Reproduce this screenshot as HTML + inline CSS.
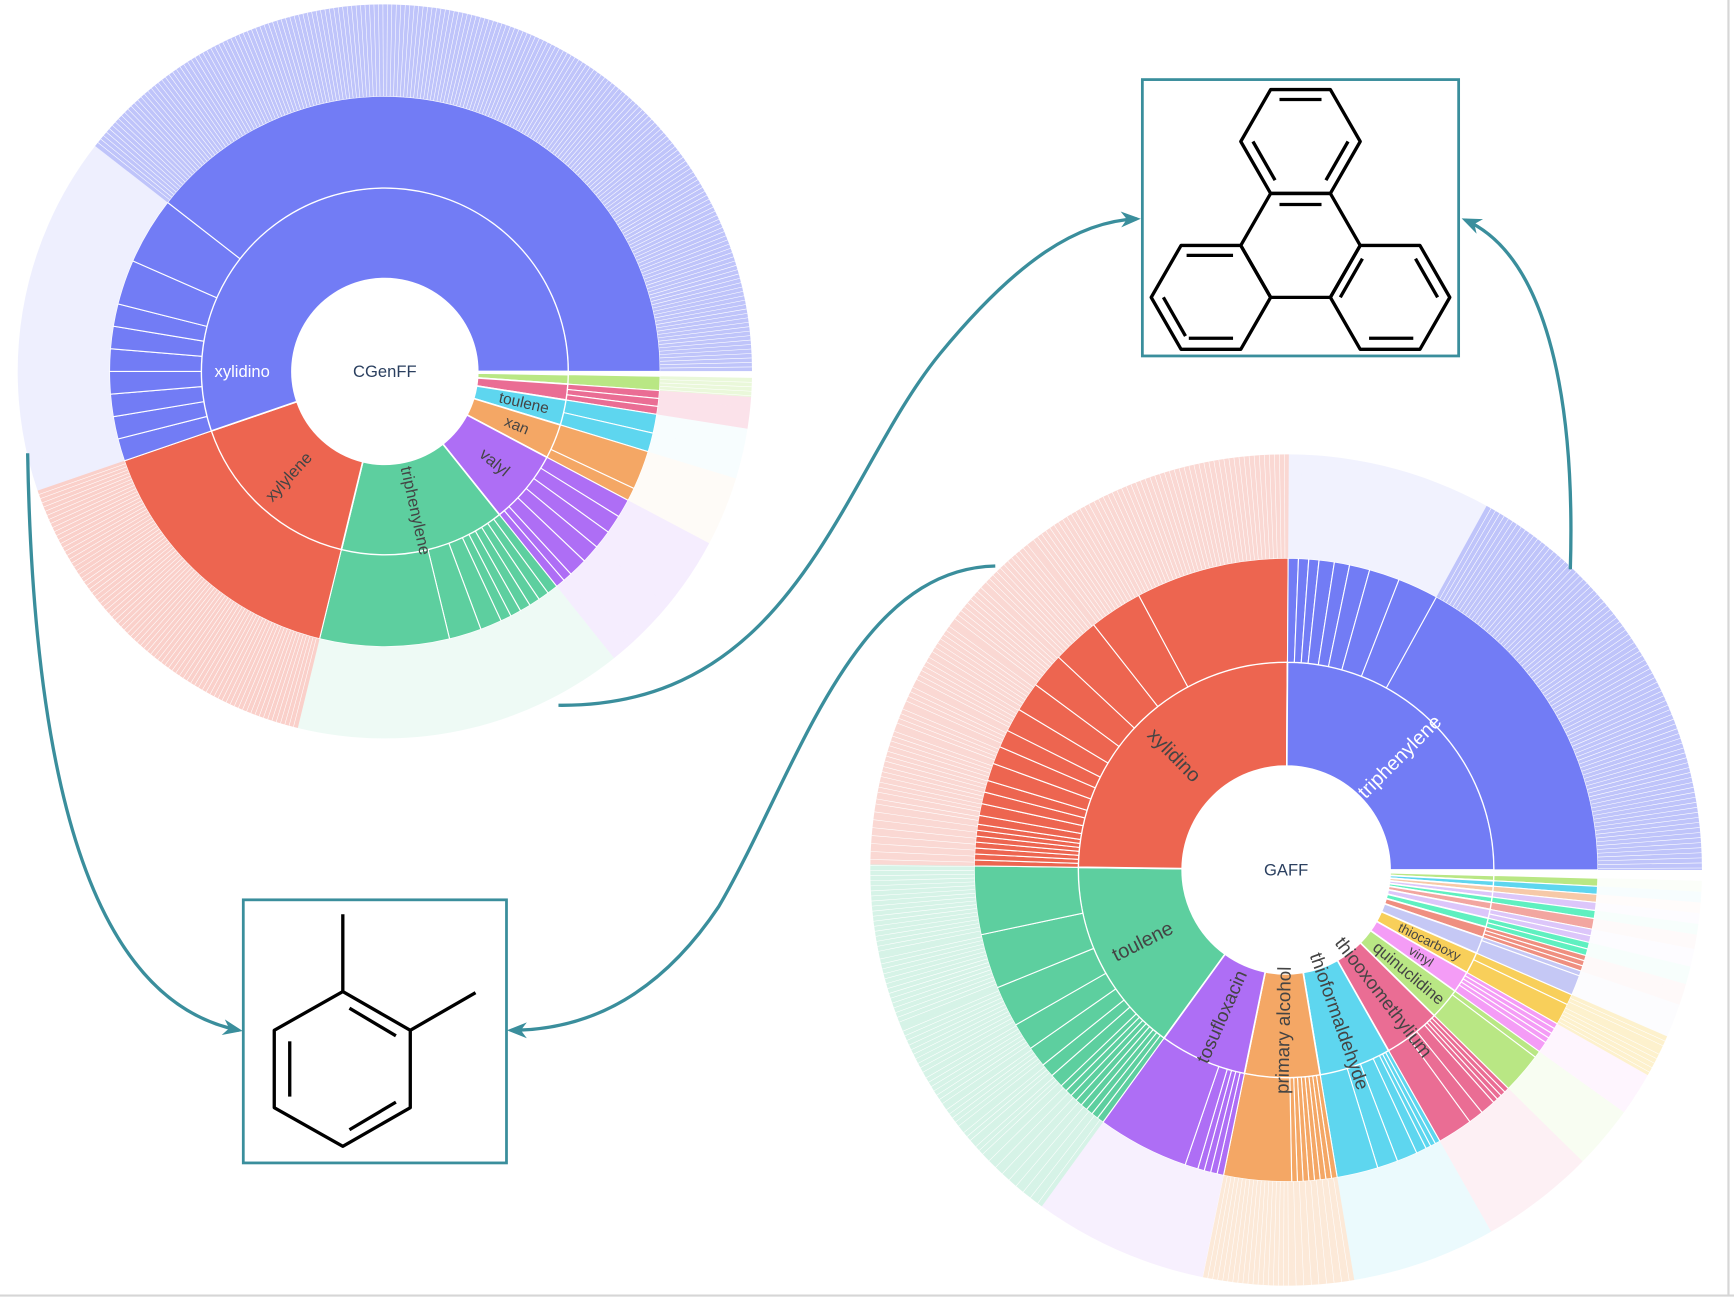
<!DOCTYPE html>
<html><head><meta charset="utf-8"><style>
html,body{margin:0;padding:0;background:#fff;width:1734px;height:1300px;overflow:hidden}
svg{display:block}
text{font-family:"Liberation Sans",sans-serif}
</style></head><body>
<svg id="root" width="1734" height="1300" viewBox="0 0 1568 1176" preserveAspectRatio="none" xmlns="http://www.w3.org/2000/svg">
<rect x="0" y="0" width="1568" height="1176" fill="#fff"/>
<line x1="1563" y1="0" x2="1563" y2="1172" stroke="#d6d6d6" stroke-width="2"/>
<line x1="0" y1="1172" x2="1568" y2="1172" stroke="#d6d6d6" stroke-width="2"/>
<g id="cg"></g>
<g id="ga"></g>
<defs><marker id="ah" viewBox="0 0 10 10" refX="8" refY="5" markerWidth="6" markerHeight="6" orient="auto"><path d="M0,1 L10,5 L0,9 L3,5 z" fill="#3a8e9c"/></marker></defs>
<g fill="none" stroke="#3a8e9c" stroke-width="3">
<path d="M25,410 C30,700 80,905 216,932" marker-end="url(#ah)"/>
<path d="M505,638 C720,640 760,430 850,320 C920,235 975,200 1028,198" marker-end="url(#ah)"/>
<path d="M900,512 C770,515 720,700 650,820 C590,910 520,932 462,932" marker-end="url(#ah)"/>
<path d="M1420,515 C1425,350 1395,230 1325,199" marker-end="url(#ah)"/>
</g>
<g>
<rect x="1033" y="72" width="286" height="250" fill="#fff" stroke="#3a8e9c" stroke-width="2.5"/>
<g fill="none" stroke="#000" stroke-width="3" stroke-linejoin="round">
<polygon points="1122,128 1149,81 1203,81 1230,128 1203,175 1149,175"/>
<polygon points="1149,175 1203,175 1230,222 1203,269 1149,269 1122,222"/>
<polygon points="1122,222 1149,269 1122,316 1068,316 1041,269 1068,222"/>
<polygon points="1230,222 1284,222 1311,269 1284,316 1230,316 1203,269"/>
<line x1="1157" y1="90" x2="1195" y2="90"/><line x1="1133" y1="128" x2="1153" y2="163"/><line x1="1219" y1="128" x2="1199" y2="163"/>
<line x1="1157" y1="185" x2="1195" y2="185"/>
<line x1="1073" y1="231" x2="1115" y2="231"/><line x1="1052" y1="269" x2="1072" y2="304"/><line x1="1075" y1="306" x2="1115" y2="306"/>
<line x1="1238" y1="306" x2="1278" y2="306"/><line x1="1300" y1="269" x2="1280" y2="234"/><line x1="1212" y1="269" x2="1232" y2="234"/>
</g></g>
<g>
<rect x="220" y="814" width="238" height="238" fill="#fff" stroke="#3a8e9c" stroke-width="2.5"/>
<g fill="none" stroke="#000" stroke-width="3" stroke-linejoin="round">
<polygon points="310,897 371,932 371,1002 310,1037 248,1002 248,932"/>
<line x1="310" y1="897" x2="310" y2="827"/><line x1="371" y1="932" x2="430" y2="898"/>
<line x1="262" y1="942" x2="262" y2="992"/><line x1="316" y1="912" x2="358" y2="937"/><line x1="316" y1="1022" x2="358" y2="997"/>
</g></g>
</svg>
<script>
// ---- CGenFF data ----
const cgLabels = ["thioformaldehyde","W,W-bis-allyloxycarbonyl","toulene","xan","valyl","triphenylene","xylylene","xylidino"];
const cgValues = [3,5,8,11,23.5,52.5,57.5,199.5];
const cgColors = ["#b9e784","#ea6d94","#5ed6ef","#f4a765","#ae6ef5","#5dcf9f","#ed6550","#727cf5"];
const cgChildren = [[1],[1,1,1],[1,1],[3,1],[2,2,2,2,2,1,1],[1,1,1,1,1,1,2,3,12],[1],[1,1,1,1,1,1,1,2,3,30]];
const cgRing3 = [0.3,0.2,0.05,0.05,0.12,0.1,0.3,0.12];
const cgLabelAngle = [null,null,null,null,null,null,null,180];
// ---- GAFF data ----
const gaLabels = ["","","","","","","thiazole","tosyl","water","silicon carbide","thiocarboxy","vinyl","quinuclidine","thiooxomethylium","thioformaldehyde","primary alcohol","tosufloxacin","toulene","xylidino","triphenylene"];
const gaValues = [1.5,1.5,1.5,1.5,1.5,2,2.5,2.5,3,4.7,6,6.1,8.9,16,20.2,21.1,24.5,55,90,90];
const gaColors = ["#b9e784","#5ed6ef","#f6c9a8","#dcc6fa","#5ff0c0","#f2a6a0","#dcc6fa","#5ff0c0","#ef8f80","#c5c8f5","#f8cf5a","#f49cf6","#b9e784","#ea6d94","#5ed6ef","#f4a765","#ae6ef5","#5dcf9f","#ed6550","#727cf5"];
const gaChildren = [[1],[1],[1],[1],[1],[1],[1,1],[1,1],[1,1,1],[1,4],[2,4],[1,1,1,1,2],[1,6],[1,1,1,1,3,3,7],[1,1,1,2,4,4,8],[1,1,1,1,1,1,1,1,12],[1,1,1,1,2,14],[1,1,1,1,1,1,1,1,2,2,3,4,6,8,10],[1,1,1,1,1,1,1,1.5,2,2,2,3,3,3,4,5,6,8,9,26],[2,2,2,3,3,4,6,8,64.5]];
const gaRing3 = [0.05,0.05,0.05,0.05,0.05,0.05,0.05,0.05,0.05,0.05,0.3,0.1,0.1,0.1,0.12,0.25,0.1,0.25,0.25,0.1];
const gaLabelAngle = [];

const NS="http://www.w3.org/2000/svg";
function pt(cx,cy,r,a){const t=a*Math.PI/180;return [cx+r*Math.cos(t),cy+r*Math.sin(t)];}
function wedge(cx,cy,r0,r1,a0,a1){
  const L=(a1-a0)>180?1:0;
  const p1=pt(cx,cy,r1,a0),p2=pt(cx,cy,r1,a1),p3=pt(cx,cy,r0,a1),p4=pt(cx,cy,r0,a0);
  return `M${p1[0]},${p1[1]} A${r1},${r1} 0 ${L} 1 ${p2[0]},${p2[1]} L${p3[0]},${p3[1]} A${r0},${r0} 0 ${L} 0 ${p4[0]},${p4[1]} Z`;
}
function mk(tag,parent){const e=document.createElementNS(NS,tag);parent.appendChild(e);return e;}
function label(g,cx,cy,r,a,txt,size,col){
  const p=pt(cx,cy,r,a);let rot=a;if(a>90&&a<270)rot=a-180;
  if(Math.abs(a-180)<1)rot=0;
  const t=mk('text',g);t.textContent=txt;
  
  
  t.setAttribute('x',p[0]);t.setAttribute('y',p[1]);t.setAttribute('font-size',size);
  t.setAttribute('fill',col);t.setAttribute('text-anchor','middle');t.setAttribute('dominant-baseline','central');
  t.setAttribute('transform',`rotate(${rot} ${p[0]} ${p[1]})`);
}
function sunburst(g,cx,cy,R,labels,values,colors,children,ring3,lblAng,title,start,fs){
  const tot=values.reduce((a,b)=>a+b,0);
  let a=start;
  labels.forEach((lab,i)=>{
    const span=values[i]/tot*(360-start);const a0=a,a1=a+span;a=a1;
    const w=mk('path',g);w.setAttribute('d',wedge(cx,cy,R[0],R[1],a0,a1));
    w.setAttribute('fill',colors[i]);w.setAttribute('stroke','#fff');w.setAttribute('stroke-width','1.5');
    
    
    const ch=children[i];const ct=ch.reduce((x,y)=>x+y,0);let b=a0;
    const maxv=Math.max(...ch);
    ch.forEach((v)=>{
      const s=v/ct*span;const b0=b,b1=b+s;b=b1;
      const c=mk('path',g);c.setAttribute('d',wedge(cx,cy,R[1],R[2],b0,b1));
      c.setAttribute('fill',colors[i]);c.setAttribute('stroke','#fff');c.setAttribute('stroke-width','1');
      
      
      let op=ring3[i];
      if(colors[i]=="#727cf5"&&v==maxv&&ch.length>1)op=0.45;
      const o=mk('path',g);o.setAttribute('d',wedge(cx,cy,R[2],R[3],b0,b1));
      o.setAttribute('fill',colors[i]);o.setAttribute('fill-opacity',op);o.setAttribute('stroke','none');
      
      
      if(s>=1&&op>0.2){for(let q=b0+0.7;q<b1;q+=0.7){const p1=pt(cx,cy,R[2],q),p2=pt(cx,cy,R[3],q);
        const l=mk('line',g);l.setAttribute('x1',p1[0]);l.setAttribute('y1',p1[1]);l.setAttribute('x2',p2[0]);l.setAttribute('y2',p2[1]);
        l.setAttribute('stroke','#fff');l.setAttribute('stroke-width','0.5');}}
    });
    if(lab&&span>5){
      const mid=(lblAng[i]!=null)?lblAng[i]:(a0+a1)/2;const dark=(colors[i]=="#727cf5")?"#fff":"#444";
      const sz=span>40?fs[0]:(span>15?fs[1]:(span>7?fs[2]:fs[3]));
      label(g,cx,cy,(R[0]+R[1])/2+4,mid,lab,sz,dark);
    }
  });
  const t=mk('text',g);t.textContent=title;
  
  
  t.setAttribute('x',cx);t.setAttribute('y',cy);t.setAttribute('font-size',15);t.setAttribute('fill','#2a3f5f');
  t.setAttribute('text-anchor','middle');t.setAttribute('dominant-baseline','central');
}
sunburst(document.getElementById('cg'),348,336,[84,166,249,332],cgLabels,cgValues,cgColors,cgChildren,cgRing3,cgLabelAngle,"CGenFF",1,[15,15,14,13]);
sunburst(document.getElementById('ga'),1163,787,[94,188,282,376],gaLabels,gaValues,gaColors,gaChildren,gaRing3,gaLabelAngle,"GAFF",1.5,[18,17,15,12]);
</script>
</body></html>
